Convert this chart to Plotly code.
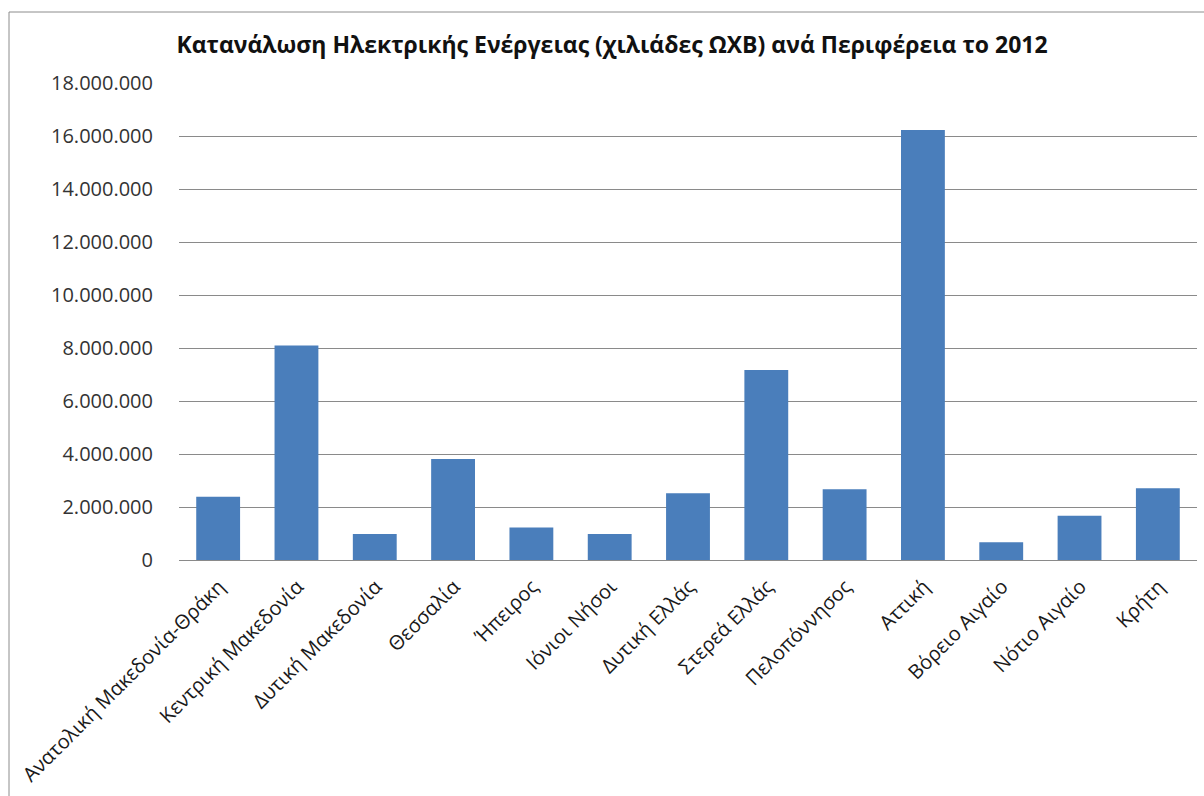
import plotly.graph_objects as go

# Electricity consumption by region, 2012 (thousands of kWh)
regions = [
    "Ανατολική Μακεδονία-Θράκη",
    "Κεντρική Μακεδονία",
    "Δυτική Μακεδονία",
    "Θεσσαλία",
    "Ήπειρος",
    "Ιόνιοι Νήσοι",
    "Δυτική Ελλάς",
    "Στερεά Ελλάς",
    "Πελοπόννησος",
    "Αττική",
    "Βόρειο Αιγαίο",
    "Νότιο Αιγαίο",
    "Κρήτη",
]
consumption = [
    2390000, 8090000, 980000, 3810000, 1230000, 980000, 2520000,
    7170000, 2670000, 16230000, 670000, 1670000, 2710000,
]
y_ticks = [0, 2000000, 4000000, 6000000, 8000000, 10000000,
           12000000, 14000000, 16000000, 18000000]

title_text = "Κατανάλωση Ηλεκτρικής Ενέργειας (χιλιάδες ΩΧΒ) ανά Περιφέρεια το 2012"

FONT = "Open Sans"
BAR = "#4A7EBB"
GRID = "#8A8A8A"

fig = go.Figure(
    go.Bar(
        x=regions,
        y=consumption,
        marker=dict(color=BAR, line=dict(width=0)),
    )
)

W, H = 1204, 796
L, R, T, B = 179, 7, 83, 236
pw, ph = W - L - R, H - T - B

def px(xp):
    return (xp - L) / pw

def py(yp):
    return (H - B - yp) / ph

fig.update_layout(
    width=W,
    height=H,
    margin=dict(l=L, r=R, t=T, b=B, pad=0),
    paper_bgcolor="white",
    plot_bgcolor="white",
    separators=",.",
    bargap=0.44,
    showlegend=False,
    font=dict(family=FONT, color="#1a1a1a"),
    title=dict(
        text="<b>" + title_text + "</b>",
        font=dict(family=FONT, size=23, color="#111111"),
        xref="paper",
        x=px(612),
        xanchor="center",
        yref="container",
        y=1 - 45 / H,
        yanchor="middle",
    ),
    xaxis=dict(
        tickangle=-45,
        tickfont=dict(family=FONT, size=20, color="#1a1a1a"),
        ticklabelstandoff=6,
        ticklabelshift=1,
        showgrid=False,
        showline=True,
        linecolor=GRID,
        linewidth=1,
        ticks="",
    ),
    yaxis=dict(
        range=[0, 18000000],
        tickvals=y_ticks,
        tickformat=",d",
        tickfont=dict(family=FONT, size=20, color="#333333"),
        showgrid=True,
        gridcolor=GRID,
        gridwidth=1,
        zeroline=False,
        showline=False,
        ticks="outside",
        ticklen=21,
        tickcolor="white",
    ),
    shapes=[
        dict(
            type="rect",
            xref="paper",
            yref="paper",
            x0=px(9),
            x1=px(1215),
            y0=py(810),
            y1=py(12),
            line=dict(color="#8C8C8C", width=1),
            fillcolor="rgba(0,0,0,0)",
            layer="below",
        )
    ],
)

fig.write_html("out.html")
